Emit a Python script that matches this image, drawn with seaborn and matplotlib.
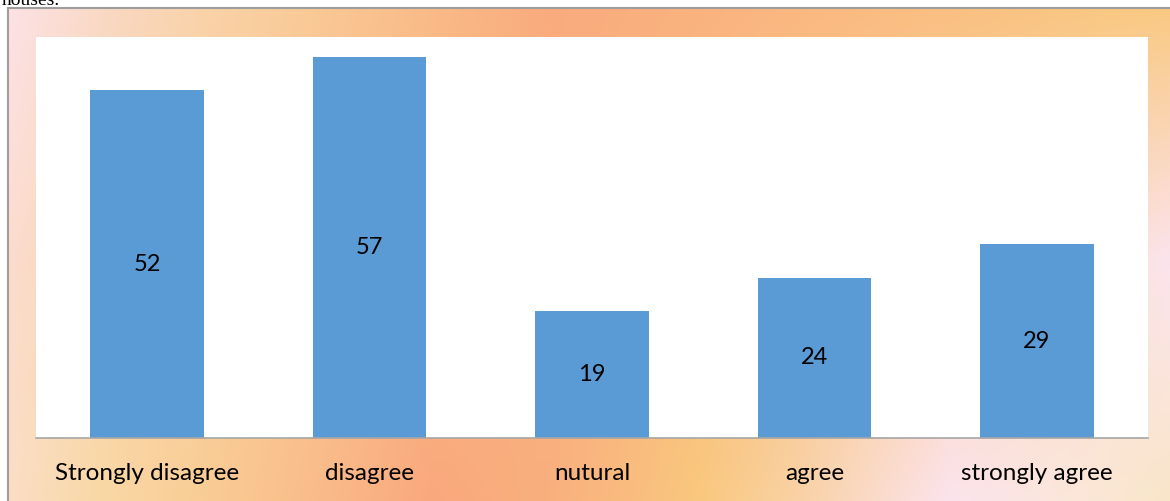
import numpy as np
import matplotlib
matplotlib.use("Agg")
import matplotlib.pyplot as plt
import seaborn as sns

categories = ["Strongly disagree", "disagree", "nutural", "agree", "strongly agree"]
counts = [52, 57, 19, 24, 29]

W, H = 1170, 501

# frame gradient (top / middle / bottom rows)
grad_x = [0, 100, 200, 300, 430, 550, 700, 800, 950, 1100, 1170]
top_row = ["#FDE3EA", "#FAD9C6", "#F9D3AA", "#F9CB98", "#FABB88", "#F9AB7E",
           "#FAB27F", "#FBB880", "#FABF80", "#F9C77F", "#F9C87F"]
mid_row = ["#FBDDD0", "#FAD6B4", "#F9CFA0", "#F9C592", "#F9B583", "#F9AE7E",
           "#F9BD7F", "#FAC690", "#FBD3B0", "#FCDFD8", "#FCE4EE"]
bot_row = ["#FBDFC8", "#F9D8A5", "#F9CD95", "#F9BE8B", "#F9A87D", "#F9B07E",
           "#F9C87E", "#F9D2A6", "#FCE4EE", "#FBE7D5", "#F9E6C8"]
grad_y = [0, 260, 501]


def row_colors(hexes):
    rgb = np.array([matplotlib.colors.to_rgb(h) for h in hexes])
    xs = np.arange(W)
    return np.stack([np.interp(xs, grad_x, rgb[:, c]) for c in range(3)], axis=1)


rows = np.stack([row_colors(top_row), row_colors(mid_row), row_colors(bot_row)])
ys = np.arange(H)
img = np.empty((H, W, 3))
for c in range(3):
    for x in range(W):
        img[:, x, c] = np.interp(ys, grad_y, rows[:, x, c])
img[:7, :, :] = 1.0
img[:, :7, :] = 1.0

fig = plt.figure(figsize=(W / 100, H / 100), dpi=100)
bg = fig.add_axes([0, 0, 1, 1])
bg.imshow(img, extent=(0, W, H, 0), aspect="auto", interpolation="bilinear")
bg.plot([7.5, 7.5], [7.5, H], color="#9E9E9E", lw=1.5)
bg.plot([7.5, W], [7.5, 7.5], color="#9E9E9E", lw=1.5)
bg.set_xlim(0, W)
bg.set_ylim(H, 0)
bg.axis("off")

# tail of the preceding paragraph, cut by the top edge as in the source
fig.text(2 / W, 1 - 5 / H, "houses.", fontfamily="Liberation Serif", fontsize=14,
         va="baseline", ha="left", color="black")

ax = fig.add_axes([36 / W, (H - 438) / H, (1148 - 36) / W, (438 - 37) / H])
ax.set_facecolor("white")
sns.barplot(x=categories, y=counts, color="#5B9BD5", saturation=1, width=0.51, ax=ax)
ax.set_ylim(0, 60)
ax.set_xlim(-0.5, 4.5)
ax.bar_label(ax.containers[0], label_type="center", fontsize=17, fontfamily="Lato")

for s in ["top", "right", "left"]:
    ax.spines[s].set_visible(False)
ax.spines["bottom"].set_color("#A6A6A6")
ax.spines["bottom"].set_linewidth(1.2)
ax.set_yticks([])
ax.tick_params(axis="x", length=0, pad=18, labelsize=17.5)
for lbl in ax.get_xticklabels():
    lbl.set_fontfamily("Lato")
ax.set_xlabel("")
ax.set_ylabel("")

fig.savefig("out.png", dpi=100)
